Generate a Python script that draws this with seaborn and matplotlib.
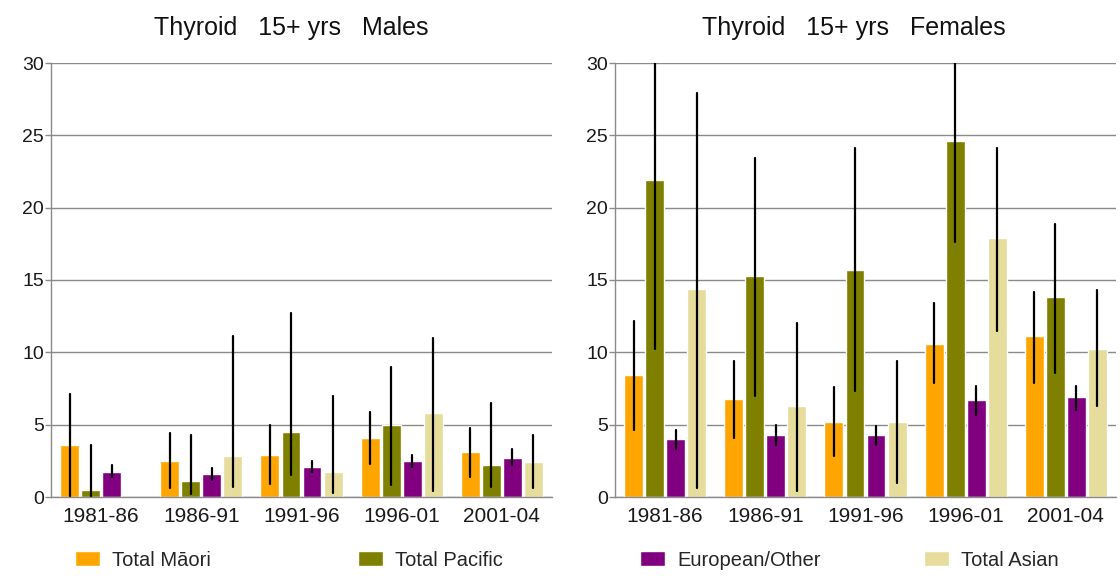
import numpy as np
import pandas as pd
import matplotlib
matplotlib.use("Agg")
import matplotlib.pyplot as plt
import seaborn as sns

# Age-standardised thyroid cancer rates, 15+ years, with 95% confidence limits
periods = ["1981-86", "1986-91", "1991-96", "1996-01", "2001-04"]
groups = ["Total Māori", "Total Pacific", "European/Other", "Total Asian"]
colors = ["#FFA500", "#808000", "#800080", "#E6DC9C"]

# Males (Asian 1981-86 not reported)
male_rate = {
    "Total Māori":    [3.6, 2.5, 2.9, 4.1, 3.1],
    "Total Pacific":  [0.5, 1.1, 4.5, 5.0, 2.2],
    "European/Other": [1.7, 1.6, 2.1, 2.5, 2.7],
    "Total Asian":    [np.nan, 2.8, 1.7, 5.8, 2.4],
}
male_lo = {
    "Total Māori":    [0.0, 0.6, 0.9, 2.3, 1.4],
    "Total Pacific":  [0.0, 0.2, 1.5, 0.8, 0.7],
    "European/Other": [1.4, 1.2, 1.7, 2.1, 2.2],
    "Total Asian":    [np.nan, 0.7, 0.3, 0.4, 0.6],
}
male_hi = {
    "Total Māori":    [7.1, 4.4, 5.0, 5.9, 4.8],
    "Total Pacific":  [3.6, 4.3, 12.7, 9.0, 6.5],
    "European/Other": [2.2, 2.0, 2.5, 2.9, 3.3],
    "Total Asian":    [np.nan, 11.1, 7.0, 11.0, 4.3],
}

# Females
female_rate = {
    "Total Māori":    [8.4, 6.8, 5.2, 10.6, 11.1],
    "Total Pacific":  [21.9, 15.3, 15.7, 24.6, 13.8],
    "European/Other": [4.0, 4.3, 4.3, 6.7, 6.9],
    "Total Asian":    [14.4, 6.3, 5.2, 17.9, 10.2],
}
female_lo = {
    "Total Māori":    [4.6, 4.1, 2.8, 7.9, 7.9],
    "Total Pacific":  [10.2, 7.0, 7.3, 17.6, 8.6],
    "European/Other": [3.3, 3.6, 3.6, 5.7, 6.0],
    "Total Asian":    [0.6, 0.4, 1.0, 11.5, 6.3],
}
female_hi = {
    "Total Māori":    [12.2, 9.4, 7.6, 13.4, 14.2],
    "Total Pacific":  [38.0, 23.4, 24.1, 33.5, 18.9],
    "European/Other": [4.6, 5.0, 4.9, 7.7, 7.7],
    "Total Asian":    [27.9, 12.0, 9.4, 24.1, 14.3],
}


def long_form(rate, lo, hi):
    # Three rows per bar: lower limit, estimate, upper limit.
    # The median returns the estimate and the 100% percentile interval spans the limits.
    rows = []
    for g in groups:
        for i, p in enumerate(periods):
            if np.isnan(rate[g][i]):
                continue
            for v in (lo[g][i], rate[g][i], hi[g][i]):
                rows.append({"period": p, "group": g, "value": v})
    return pd.DataFrame(rows)


sns.set_theme(style="white")
plt.rcParams["font.family"] = ["Liberation Sans", "DejaVu Sans"]

fig = plt.figure(figsize=(11.2, 5.78), dpi=100)
ax_m = fig.add_axes([51 / 1120, 81 / 578, 501 / 1120, 434 / 578])
ax_f = fig.add_axes([615 / 1120, 81 / 578, 501 / 1120, 434 / 578])

grid_col = "#8a8a8a"
panels = [
    (ax_m, long_form(male_rate, male_lo, male_hi), "Thyroid   15+ yrs   Males", 291),
    (ax_f, long_form(female_rate, female_lo, female_hi), "Thyroid   15+ yrs   Females", 854),
]

for ax, df, title, tx in panels:
    sns.barplot(
        data=df, x="period", y="value", hue="group",
        order=periods, hue_order=groups, palette=colors,
        estimator="median", errorbar=("pi", 100),
        width=0.84, gap=0.1, saturation=1.0,
        err_kws={"color": "black", "linewidth": 1.6},
        ax=ax,
    )
    ax.set_ylim(0, 30)
    ax.set_xlim(-0.5, 4.5)
    ax.set_yticks([0, 5, 10, 15, 20, 25, 30])
    ax.set_xlabel("")
    ax.set_ylabel("")
    ax.set_axisbelow(True)
    ax.yaxis.grid(True, color=grid_col, linewidth=1.0)
    ax.xaxis.grid(False)
    for side in ("top", "right"):
        ax.spines[side].set_visible(False)
    for side in ("left", "bottom"):
        ax.spines[side].set_color(grid_col)
        ax.spines[side].set_linewidth(1.0)
    ax.tick_params(axis="y", which="major", left=True, length=4, width=1,
                   color=grid_col, pad=1, labelsize=14, labelcolor="#1a1a1a")
    ax.tick_params(axis="x", length=0, pad=7, labelsize=15, labelcolor="#1a1a1a")
    fig.text(tx / 1120, 1 - 28 / 578, title, ha="center", va="center",
             fontsize=18, color="#111111")

handles, labels = ax_m.get_legend_handles_labels()
ax_m.get_legend().remove()
ax_f.get_legend().remove()

# One legend box per series so each entry starts at a fixed column
starts = [75, 358, 640, 924]
for h, lab, x0 in zip(handles, labels, starts):
    fig.legend([h], [lab], loc="center left",
               bbox_to_anchor=(x0 / 1120, 1 - 560 / 578),
               frameon=False, fontsize=14.5, handlelength=1.25, handleheight=0.8,
               handletextpad=0.6, borderpad=0, borderaxespad=0)

fig.savefig("out.png", dpi=100, facecolor="white")
